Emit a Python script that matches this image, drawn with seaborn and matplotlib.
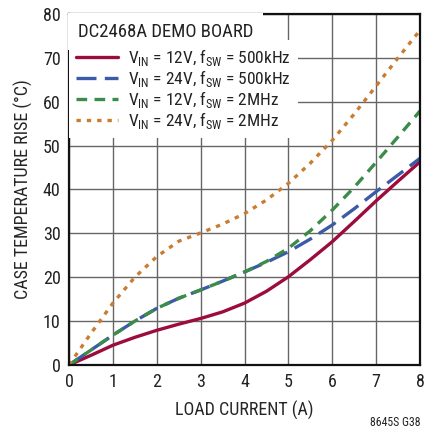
import numpy as np
import pandas as pd
import seaborn as sns
import matplotlib
matplotlib.use('Agg')
import matplotlib.pyplot as plt
from matplotlib import font_manager

# load current (A) at half-amp steps
load_current = [0, 0.5, 1, 1.5, 2, 2.5, 3, 3.5, 4, 4.5, 5, 5.5, 6, 6.5, 7, 7.5, 8]

# case temperature rise (C)
rise_12v_500k = [0, 2.2, 4.5, 6.3, 7.9, 9.3, 10.6, 12.1, 14.1, 16.8, 20.1, 24.0, 28.1, 32.7, 37.4, 41.9, 46.3]
rise_24v_500k = [0, 3.4, 6.8, 10.0, 12.9, 15.2, 17.1, 19.1, 21.2, 23.4, 25.8, 28.7, 31.9, 35.6, 39.5, 43.3, 47.1]
rise_12v_2m = [0, 3.4, 6.8, 10.0, 12.9, 15.2, 17.1, 19.1, 21.2, 23.6, 26.6, 30.6, 35.3, 40.5, 46.2, 52.0, 57.9]
rise_24v_2m = [0, 7.2, 14.1, 20.0, 24.7, 28.2, 30.1, 32.1, 34.5, 37.6, 41.4, 46.0, 51.2, 57.2, 63.6, 70.0, 76.3]

labels = [
    r'V$_{\mathregular{IN}}$ = 12V, f$_{\mathregular{SW}}$ = 500kHz',
    r'V$_{\mathregular{IN}}$ = 24V, f$_{\mathregular{SW}}$ = 500kHz',
    r'V$_{\mathregular{IN}}$ = 12V, f$_{\mathregular{SW}}$ = 2MHz',
    r'V$_{\mathregular{IN}}$ = 24V, f$_{\mathregular{SW}}$ = 2MHz',
]
board = 'DC2468A DEMO BOARD'

sns.set_style('white')
names = {f.name for f in font_manager.fontManager.ttflist}
fam = 'DejaVu Sans'
for cand in ['Roboto Condensed', 'Liberation Sans Narrow', 'Open Sans Condensed', 'Liberation Sans']:
    if cand in names:
        fam = cand
        break
plt.rcParams['font.family'] = [fam, 'DejaVu Sans']
plt.rcParams['mathtext.fontset'] = 'custom'
plt.rcParams['mathtext.rm'] = fam
plt.rcParams['text.color'] = '#222222'

fig = plt.figure(figsize=(4.27, 4.37), dpi=100)
ax = fig.add_axes([0.1616, 0.1648, 0.822, 0.8032])

series = [rise_12v_500k, rise_24v_500k, rise_12v_2m, rise_24v_2m]
colors = ['#9c0c3c', '#3b5ba9', '#3a8c48', '#c87d33']
dashes = [None, (6, 2.5), (3.2, 2.2), (1.3, 1.8)]

for vals, lab, c, d in zip(series, labels, colors, dashes):
    sns.lineplot(x=load_current, y=vals, ax=ax, color=c, lw=2.4, label=lab)
    if d is not None:
        ax.lines[-1].set_dashes(d)

ax.set_xlim(0, 8)
ax.set_ylim(0, 80)
ax.set_xticks(range(0, 9))
ax.set_yticks(range(0, 81, 10))
ax.grid(True, color='#666666', lw=1.0)
ax.set_axisbelow(True)
for s in ax.spines.values():
    s.set_color('#111111')
    s.set_linewidth(1.6)
ax.tick_params(length=0, labelsize=13, pad=6, colors='#222222')
ax.set_xlabel('LOAD CURRENT (A)', fontsize=13, labelpad=7)
ax.set_ylabel('CASE TEMPERATURE RISE (°C)', fontsize=13, labelpad=7)

# board name sits on its own white patch above the legend
ax.text(0.025, 0.95, board, transform=ax.transAxes, fontsize=13.5,
        ha='left', va='center', zorder=6,
        bbox=dict(facecolor='white', edgecolor='none', pad=7))

leg = ax.legend(loc='upper left', bbox_to_anchor=(0.0, 0.925), fontsize=12.5,
                frameon=True, fancybox=False, handlelength=2.4,
                handletextpad=0.6, labelspacing=0.0, borderpad=0.4,
                borderaxespad=0.0)
leg.get_frame().set_facecolor('white')
leg.get_frame().set_edgecolor('none')
leg.get_frame().set_alpha(1)
leg.set_zorder(5)

fig.text(0.985, 0.018, '8645S G38', fontsize=8.5, ha='right', va='bottom')

fig.savefig('out.png', dpi=100)
